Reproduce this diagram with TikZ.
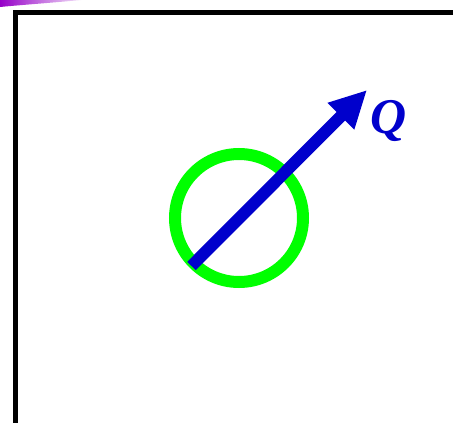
\documentclass[tikz,border=0pt]{standalone}
\usepackage{fontspec}
\setmainfont{Liberation Serif}
\usetikzlibrary{arrows.meta}
\definecolor{qblue}{RGB}{0,0,204}
\definecolor{ringgreen}{RGB}{0,255,0}
\definecolor{purp}{RGB}{150,0,200}
\tikzset{
  frame/.style={line width=5pt, draw=black},
  ring/.style={circle, draw=ringgreen, line width=12pt, minimum size=128pt, inner sep=0pt},
  vec/.style={draw=qblue, line width=12pt, -{Triangle[length=37pt,width=35pt]}},
  qlabel/.style={text=qblue, font=\fontsize{50}{50}\selectfont\bfseries\itshape, inner sep=0pt}
}
\begin{document}
\begin{tikzpicture}[x=1pt,y=-1pt]
\useasboundingbox (0,0) rectangle (453,423);
\shade[left color=purp, right color=white] (0,-1) -- (92,-1) .. controls (50,3) and (20,5) .. (0,7) -- cycle;
\draw[frame] (15.5,430) -- (15.5,12.5) -- (460,12.5);
\node[ring] (c) at (239,218) {};
\coordinate (t) at (191.5,266);
\coordinate (h) at (367,90);
\draw[vec] (t) -- (h);
\node[qlabel] (q) at (389,121) {Q};
\end{tikzpicture}
\end{document}
